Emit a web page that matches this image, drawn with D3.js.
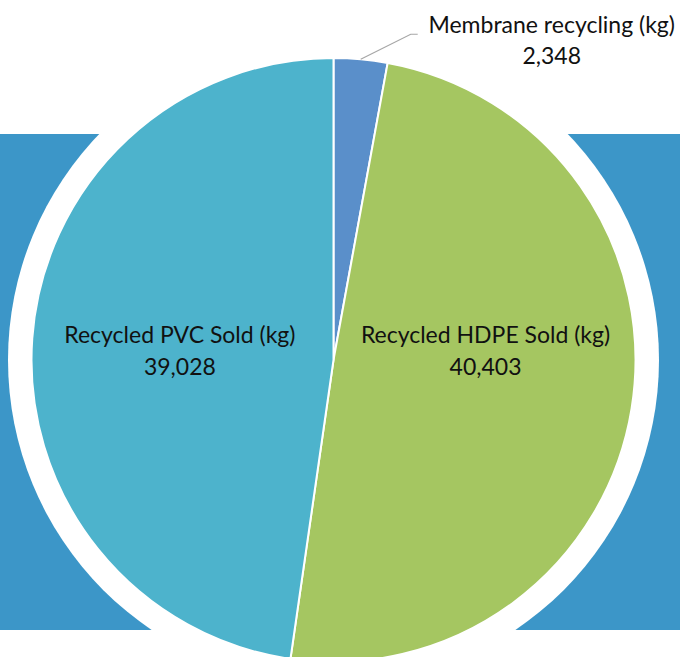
<!DOCTYPE html>
<html>
<head>
<meta charset="utf-8">
<script src="https://cdn.jsdelivr.net/npm/d3@7"></script>
<style>
  body { margin: 0; background: #fff; }
  svg { display: block; }
  text { font-family: Lato, "Open Sans", sans-serif; fill: #111; }
</style>
</head>
<body>
<svg width="680" height="657"></svg>
<script>
const categories = ["Membrane recycling (kg)", "Recycled HDPE Sold (kg)", "Recycled PVC Sold (kg)"];
const values = [2348, 40403, 39028];
const colors = ["#5a8fca", "#a5c661", "#4db3cc"];

const svg = d3.select("svg");
const width = 680;
const height = 657;

const cx = 333.5;
const cy = 360;
const radius = 302;

// blue band behind, then a white disc a bit larger than the pie
svg.append("rect")
  .attr("x", 0)
  .attr("y", 134)
  .attr("width", width)
  .attr("height", 496)
  .style("fill", "#3c96c8");

svg.append("circle")
  .attr("cx", cx)
  .attr("cy", cy)
  .attr("r", radius + 23.5)
  .style("fill", "#fff");

const data = categories.map((name, i) => ({ name, value: values[i], color: colors[i] }));

const pie = d3.pie().sort(null).value((d) => d.value);
const arcs = pie(data);

const arc = d3.arc().innerRadius(0).outerRadius(radius);
const labelArc = d3.arc().innerRadius(0).outerRadius(radius * 1.02);

const g = svg.append("g").attr("transform", `translate(${cx},${cy})`);

g.selectAll("path")
  .data(arcs)
  .join("path")
  .attr("d", arc)
  .style("fill", (d) => d.data.color)
  .style("stroke", "#fff")
  .style("stroke-width", 2);

const fmt = d3.format(",");

// inside labels for the two big slices
arcs.slice(1).forEach((d) => {
  const [x] = labelArc.centroid(d);
  const t = g.append("text")
    .attr("text-anchor", "middle")
    .style("font-size", "23px");
  t.append("tspan").attr("x", x).attr("y", -17).text(d.data.name);
  t.append("tspan").attr("x", x).attr("y", 15).text(fmt(d.data.value));
});

// outside label with leader line for the small slice
const small = arcs[0];
const mid = (small.startAngle + small.endAngle) / 2;
const p0 = [Math.sin(mid) * radius, -Math.cos(mid) * radius];
const p1 = [p0[0] + 50, p0[1] - 25];
const p2 = [p1[0] + 7, p1[1]];

g.append("polyline")
  .attr("points", [p0, p1, p2].map((p) => p.join(",")).join(" "))
  .style("fill", "none")
  .style("stroke", "#a6a6a6")
  .style("stroke-width", 1.2);

const tx = p2[0] + 134;
const t = g.append("text")
  .attr("text-anchor", "middle")
  .style("font-size", "23px");
t.append("tspan").attr("x", tx).attr("y", p2[1] - 1).text(small.data.name);
t.append("tspan").attr("x", tx).attr("y", p2[1] + 30).text(fmt(small.data.value));
</script>
</body>
</html>
